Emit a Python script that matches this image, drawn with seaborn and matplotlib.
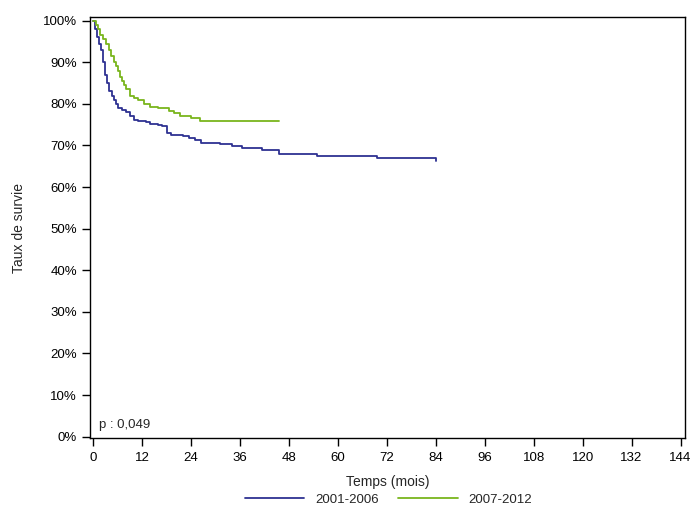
import matplotlib
matplotlib.use("Agg")
import matplotlib.pyplot as plt
import seaborn as sns
import pandas as pd
from matplotlib.ticker import FuncFormatter

# survival curves (Kaplan-Meier)
time_a = [0, 0.5, 1, 1.5, 2, 2.5, 3, 3.5, 4, 4.5, 5, 5.5, 6, 7, 8, 9, 10, 11, 13, 14, 16,
          17, 18, 19, 22, 23.5, 25, 26.5, 31, 34, 36.5, 41.5, 45.5, 55, 69.5, 84]
surv_a = [100, 98, 96, 94.5, 93, 90, 87, 85, 83, 82, 81, 80, 79, 78.5, 78, 77, 76.2, 75.9,
          75.6, 75.2, 74.9, 74.6, 73, 72.5, 72.2, 71.7, 71.2, 70.6, 70.3, 69.8, 69.3, 68.8,
          68.0, 67.5, 66.9, 66.2]
time_b = [0, 0.7, 1.2, 1.8, 2.5, 3.2, 3.8, 4.3, 5, 5.5, 6, 6.5, 7, 7.5, 8, 9, 10, 11, 12.5,
          14, 16, 18.5, 19.8, 21.4, 23.9, 26.3, 45.5]
surv_b = [100, 99, 98, 96.5, 95.5, 94.5, 93, 91.5, 90, 89, 88, 86.5, 85.5, 84.5, 83.5, 82,
          81.5, 80.9, 79.9, 79.3, 78.9, 78.3, 77.7, 77.2, 76.7, 76.0, 76.0]
labels = ["2001-2006", "2007-2012"]
p_text = "p : 0,049"

df = pd.concat([
    pd.DataFrame({"t": time_a, "s": surv_a, "periode": labels[0]}),
    pd.DataFrame({"t": time_b, "s": surv_b, "periode": labels[1]}),
])

sns.set_style("white")
plt.rcParams["font.family"] = ["Liberation Sans", "DejaVu Sans"]

fig = plt.figure(figsize=(7, 5.25), dpi=100)
ax = fig.add_axes([0.129, 0.165, 0.849, 0.802])
sns.lineplot(data=df, x="t", y="s", hue="periode", palette=["#2E3192", "#7AB51D"],
             drawstyle="steps-post", linewidth=1.3, legend=False, ax=ax, estimator=None,
             sort=False)

ax.set_xlim(-0.7, 145)
ax.set_ylim(-0.4, 100.8)
ax.set_xticks(range(0, 145, 12))
ax.set_yticks(range(0, 101, 10))
ax.yaxis.set_major_formatter(FuncFormatter(lambda v, _: f"{int(v)}%"))
ax.tick_params(axis="both", direction="out", length=6, width=1, labelsize=9.5,
               colors="black", bottom=True, left=True)
for sp in ax.spines.values():
    sp.set_color("black")
    sp.set_linewidth(1)
ax.set_xlabel("Temps (mois)", fontsize=10, labelpad=8)
ax.set_ylabel("Taux de survie", fontsize=10, labelpad=12)
ax.text(1.5, 2, p_text, fontsize=9.5)

handles = [plt.Line2D([], [], color=c, lw=1.3) for c in ["#2E3192", "#7AB51D"]]
fig.legend(handles, labels, loc="center", bbox_to_anchor=(0.555, 0.048), ncol=2,
           frameon=False, fontsize=9.5, handlelength=4.5, columnspacing=1.5)

fig.savefig("out.png", dpi=100)
